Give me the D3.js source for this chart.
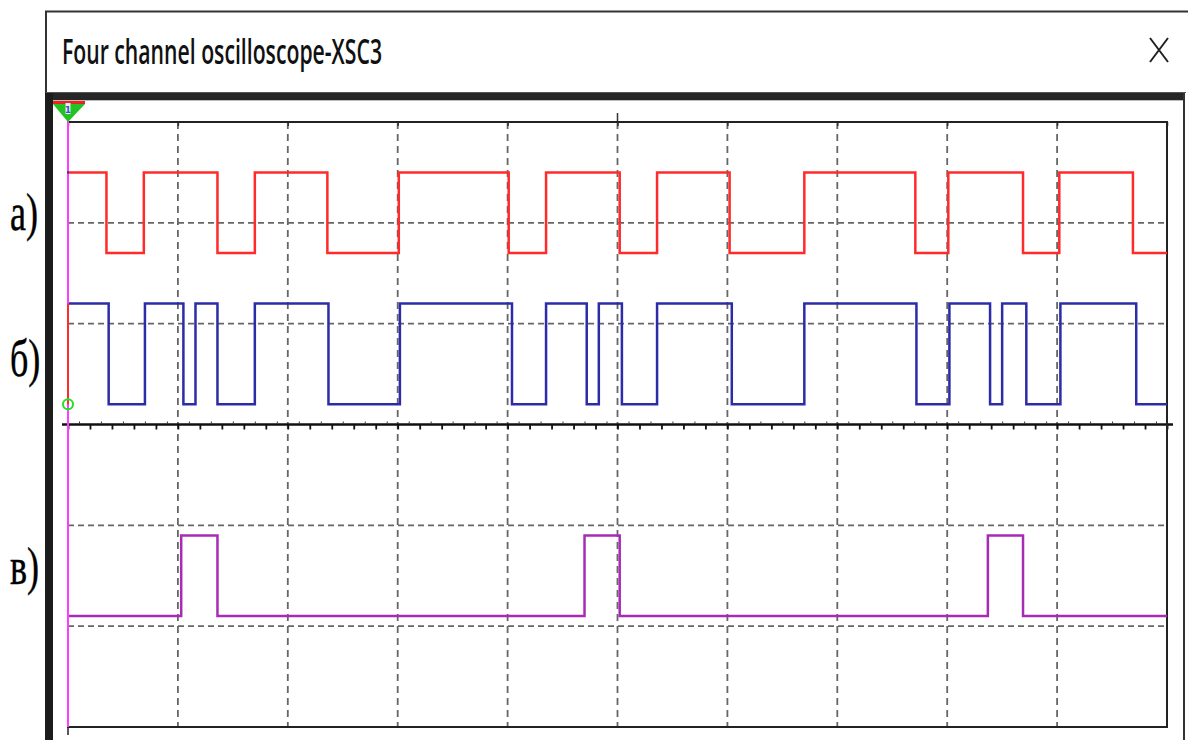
<!DOCTYPE html>
<html>
<head>
<meta charset="utf-8">
<script src="https://cdn.jsdelivr.net/npm/d3@7.8.5/dist/d3.min.js"></script>
<style>
  body { margin: 0; background: #fff; }
  svg { display: block; }
  .chlabel { font-family: "Liberation Serif", "Times New Roman", "DejaVu Serif", serif; }
</style>
</head>
<body>
<div id="chart"></div>
<script>
// scope screen: 10 divisions across (10 ms/div), 6 divisions down
const timeDomain = [0, 100];
const timeGrid = d3.range(0, 101, 10);
const divDomain = [-3, 3];
const divGrid = [-2, -1, 1, 2];

const channelLabels = ["а)", "б)", "в)"];
const channelColors = ["#ff2b2b", "#2c2ca8", "#a62cb6"];

// low / high levels of each trace, in divisions from the centre line
const levelsA = [1.7, 2.5];
const levelsB = [0.2, 1.2];
const levelsC = [-1.9, -1.1];

// level at t = 0 (1 = high) and the switching moments, ms
const startA = 1;
const edgesA = [3.5, 6.9, 13.6, 17.0, 23.6, 30.1, 40.1, 43.5, 50.2, 53.6, 60.2, 67.0, 77.1, 80.1, 86.9, 90.2, 96.9];
const startB = 1;
const edgesB = [3.7, 7.0, 10.5, 11.6, 13.6, 17.0, 23.7, 30.2, 40.4, 43.5, 47.2, 48.3, 50.4, 53.6, 60.4, 67.0, 77.2, 80.2, 83.9, 85.0, 87.2, 90.3, 97.2];
const startC = 0;
const edgesC = [10.3, 13.6, 47.0, 50.2, 83.7, 86.9];

const width = 1188;
const height = 740;
const plot = { left: 68, right: 1167, top: 122, bottom: 727 };

const svg = d3.select("#chart")
  .append("svg")
  .attr("width", width)
  .attr("height", height);

const x = d3.scaleLinear().domain(timeDomain).range([plot.left, plot.right]);
const y = d3.scaleLinear().domain(divDomain).range([plot.bottom, plot.top]);

// ---- window chrome ----
svg.append("rect").attr("x", 0).attr("y", 0).attr("width", width).attr("height", height).attr("fill", "#fff");

svg.append("line").attr("x1", 45).attr("x2", width).attr("y1", 11.5).attr("y2", 11.5)
  .attr("stroke", "#333").attr("stroke-width", 2);
svg.append("line").attr("x1", 46).attr("x2", 46).attr("y1", 11).attr("y2", 94)
  .attr("stroke", "#333").attr("stroke-width", 2);
svg.append("line").attr("x1", 46).attr("x2", 1186).attr("y1", 92.5).attr("y2", 92.5)
  .attr("stroke", "#555").attr("stroke-width", 1);

svg.append("text")
  .attr("transform", "translate(62,64) scale(1,1.55)")
  .attr("textLength", 320)
  .attr("lengthAdjust", "spacingAndGlyphs")
  .style("font-family", "'Open Sans', 'Noto Sans', sans-serif")
  .style("font-size", "22px")
  .style("font-weight", 600)
  .style("fill", "#111")
  .text("Four channel oscilloscope-XSC3");

// close cross
svg.append("path")
  .attr("d", "M1150,38 L1168,62 M1168,38 L1150,62")
  .attr("stroke", "#222").attr("stroke-width", 2).attr("fill", "none");

// dark frame around the screen
svg.append("rect").attr("x", 46).attr("y", 93).attr("width", 1139).attr("height", 7).attr("fill", "#262626");
svg.append("rect").attr("x", 45).attr("y", 93).attr("width", 8).attr("height", height - 93).attr("fill", "#1c1c1c");
svg.append("line").attr("x1", 1184).attr("x2", 1184).attr("y1", 93).attr("y2", height)
  .attr("stroke", "#333").attr("stroke-width", 2);
svg.append("line").attr("x1", 53).attr("x2", 1183).attr("y1", 100.5).attr("y2", 100.5)
  .attr("stroke", "#bbb").attr("stroke-width", 1);

// ---- grid ----
const grid = svg.append("g");

grid.selectAll(".vgrid")
  .data(timeGrid.filter((d) => d > timeDomain[0] && d < timeDomain[1]))
  .enter()
  .append("line")
  .attr("class", "vgrid")
  .attr("x1", (d) => x(d)).attr("x2", (d) => x(d))
  .attr("y1", plot.top).attr("y2", plot.bottom)
  .attr("stroke", "#666").attr("stroke-width", 1.8)
  .attr("stroke-dasharray", "7,5");

grid.selectAll(".hgrid")
  .data(divGrid)
  .enter()
  .append("line")
  .attr("class", "hgrid")
  .attr("x1", plot.left).attr("x2", plot.right)
  .attr("y1", (d) => y(d)).attr("y2", (d) => y(d))
  .attr("stroke", "#666").attr("stroke-width", 1.8)
  .attr("stroke-dasharray", "6,4");

// centre line with minor ticks
svg.append("line")
  .attr("x1", 62).attr("x2", 1173)
  .attr("y1", y(0)).attr("y2", y(0))
  .attr("stroke", "#111").attr("stroke-width", 2.5);

const minorAxis = svg.append("g")
  .attr("transform", `translate(0, ${y(0)})`)
  .call(d3.axisBottom(x).tickValues(d3.range(0, 101, 2)).tickSize(5).tickFormat(""));
minorAxis.select(".domain").remove();
minorAxis.selectAll(".tick line").attr("stroke", "#111").attr("stroke-width", 1.8);

const fineAxis = svg.append("g")
  .attr("transform", `translate(0, ${y(0) - 1})`)
  .call(d3.axisTop(x).tickValues(d3.range(1, 100, 2)).tickSize(2).tickFormat(""));
fineAxis.select(".domain").remove();
fineAxis.selectAll(".tick line").attr("stroke", "#333").attr("stroke-width", 1);

// top border ticks
const topAxis = svg.append("g")
  .attr("transform", `translate(0, ${plot.top})`)
  .call(d3.axisBottom(x).tickValues(timeGrid).tickSize(4).tickFormat(""));
topAxis.select(".domain").remove();
topAxis.selectAll(".tick line").attr("stroke", "#333").attr("stroke-width", 1.5);

svg.append("line")
  .attr("x1", x(50)).attr("x2", x(50))
  .attr("y1", plot.top - 9).attr("y2", plot.top)
  .attr("stroke", "#333").attr("stroke-width", 1.5);

// screen border
svg.append("rect")
  .attr("x", plot.left).attr("y", plot.top)
  .attr("width", plot.right - plot.left).attr("height", plot.bottom - plot.top)
  .attr("fill", "none").attr("stroke", "#222").attr("stroke-width", 2);

svg.append("line")
  .attr("x1", plot.left).attr("x2", plot.left)
  .attr("y1", plot.bottom).attr("y2", plot.bottom + 8)
  .attr("stroke", "#222").attr("stroke-width", 1.5);

// ---- traces ----
function steps(start, edges, levels) {
  let level = start;
  const pts = [[timeDomain[0], levels[level]]];
  edges.forEach((t) => {
    level = 1 - level;
    pts.push([t, levels[level]]);
  });
  pts.push([timeDomain[1], levels[level]]);
  return pts;
}

const channels = [
  { label: channelLabels[0], color: channelColors[0], pts: steps(startA, edgesA, levelsA) },
  { label: channelLabels[1], color: channelColors[1], pts: steps(startB, edgesB, levelsB) },
  { label: channelLabels[2], color: channelColors[2], pts: steps(startC, edgesC, levelsC) },
];

const line = d3.line()
  .x((d) => x(d[0]))
  .y((d) => y(d[1]))
  .curve(d3.curveStepAfter);

svg.selectAll(".trace")
  .data(channels)
  .enter()
  .append("path")
  .attr("class", "trace")
  .attr("d", (d) => line(d.pts))
  .attr("fill", "none")
  .attr("stroke", (d) => d.color)
  .attr("stroke-width", 2.5)
  .attr("stroke-linejoin", "miter");

// cursor at t = 0
svg.append("line")
  .attr("x1", x(0)).attr("x2", x(0))
  .attr("y1", plot.top - 4).attr("y2", plot.bottom)
  .attr("stroke", "#ff3cff").attr("stroke-width", 2);

svg.append("line")
  .attr("x1", x(0)).attr("x2", x(0))
  .attr("y1", y(levelsB[1])).attr("y2", y(levelsB[0]))
  .attr("stroke", "#ff2b2b").attr("stroke-width", 2);

svg.append("circle")
  .attr("cx", x(0)).attr("cy", y(levelsB[0]))
  .attr("r", 5)
  .attr("fill", "none").attr("stroke", "#22e022").attr("stroke-width", 2);

svg.append("rect")
  .attr("x", x(0) - 1).attr("y", y(levelsA[1]) - 1)
  .attr("width", 2).attr("height", 2)
  .attr("fill", "#2c2ca8");

// trigger marker
svg.append("path")
  .attr("d", `M53,101 L85,101 L85,104 L53,104 Z`)
  .attr("fill", "#ee2222");
svg.append("path")
  .attr("d", `M53,104 L85,104 L${x(0)},${plot.top} Z`)
  .attr("fill", "#22c322");
svg.append("rect")
  .attr("x", x(0) - 2.5).attr("y", 103).attr("width", 5).attr("height", 11)
  .attr("fill", "#eee");
svg.append("text")
  .attr("x", x(0)).attr("y", 112.5)
  .attr("text-anchor", "middle")
  .style("font-family", "'DejaVu Sans', sans-serif")
  .style("font-size", "9px")
  .style("font-weight", "bold")
  .style("fill", "#3355cc")
  .text("1");

// ---- labels ----
const labelBaselines = [230, 376, 584];
svg.selectAll(".chlabel")
  .data(channels)
  .enter()
  .append("text")
  .attr("class", "chlabel")
  .attr("transform", (d, i) => `translate(10, ${labelBaselines[i]}) scale(0.82,1.2)`)
  .attr("font-size", 44)
  .attr("fill", "#000")
  .attr("stroke", "#000")
  .attr("stroke-width", 0.4)
  .text((d) => d.label);
</script>
</body>
</html>
